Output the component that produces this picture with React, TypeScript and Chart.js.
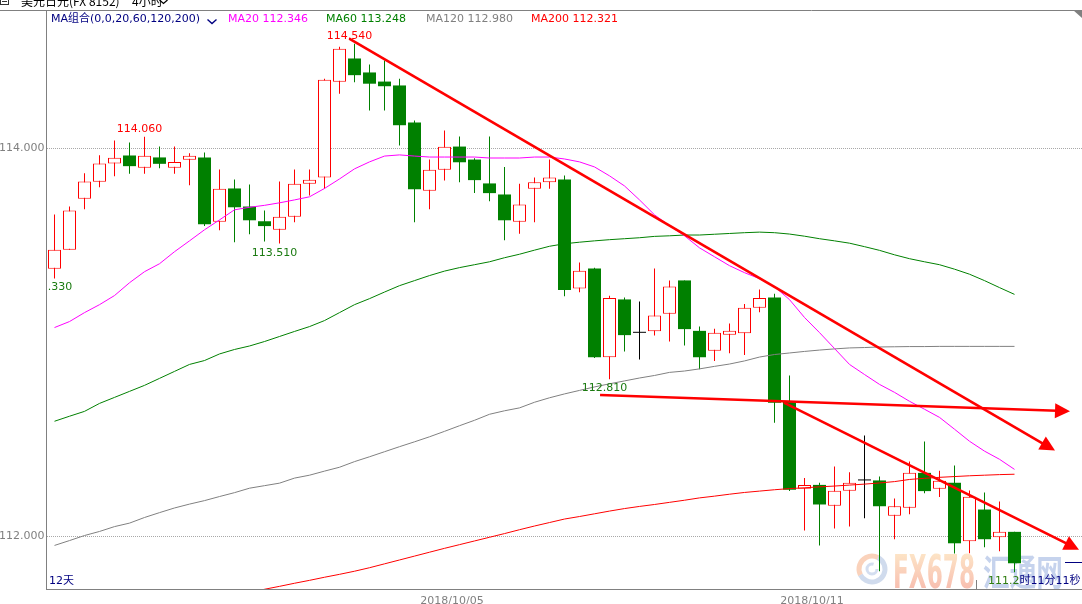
import { useEffect, useRef } from "react";
import { Chart, registerables } from "chart.js";

Chart.register(...registerables);

// ---------- data (USD/JPY 4h candles) ----------
const openP = [
  113.380, 113.478, 113.741, 113.828, 113.923, 113.964, 113.901, 113.954, 113.901, 113.942,
  113.954, 113.622, 113.794, 113.701, 113.625, 113.581, 113.648, 113.818, 113.851, 114.344,
  114.464, 114.392, 114.345, 114.325, 114.134, 113.782, 113.890, 114.010, 113.943, 113.820,
  113.763, 113.622, 113.792, 113.826, 113.840, 113.278, 113.381, 112.924, 113.222, 113.050,
  113.058, 113.148, 113.320, 113.060, 112.957, 113.040, 113.048, 113.179, 113.232, 112.697,
  112.246, 112.266, 112.158, 112.236, 112.289, 112.289, 112.107, 112.148, 112.328, 112.246,
  112.277, 111.976, 112.139, 111.996, 112.024,
];
const highP = [
  113.660, 113.701, 113.873, 113.965, 114.041, 114.031, 114.060, 114.010, 114.010, 113.976,
  113.979, 113.892, 113.840, 113.814, 113.680, 113.830, 113.892, 113.892, 114.359, 114.525,
  114.540, 114.433, 114.454, 114.359, 114.144, 113.943, 114.093, 114.062, 113.950, 114.062,
  113.904, 113.818, 113.851, 113.943, 113.861, 113.412, 113.385, 113.241, 113.232, 113.211,
  113.381, 113.320, 113.320, 113.082, 113.071, 113.098, 113.199, 113.273, 113.251, 112.830,
  112.301, 112.277, 112.361, 112.331, 112.521, 112.309, 112.196, 112.387, 112.490, 112.339,
  112.366, 112.237, 112.227, 112.180, 112.024,
];
const lowP = [
  113.330, 113.478, 113.687, 113.800, 113.857, 113.870, 113.870, 113.898, 113.870, 113.811,
  113.600, 113.579, 113.517, 113.558, 113.520, 113.510, 113.620, 113.758, 113.792, 114.282,
  114.342, 114.196, 114.196, 114.015, 113.620, 113.687, 113.835, 113.826, 113.770, 113.728,
  113.527, 113.560, 113.620, 113.792, 113.239, 113.259, 112.920, 112.810, 112.954, 112.912,
  113.036, 113.005, 112.985, 112.862, 112.904, 112.945, 112.935, 113.156, 112.586, 112.234,
  112.031, 111.954, 112.041, 112.052, 112.094, 111.821, 111.986, 112.115, 112.223, 112.203,
  111.912, 111.914, 111.945, 111.924, 111.816,
];
const closeP = [
  113.478, 113.680, 113.830, 113.923, 113.952, 113.909, 113.962, 113.921, 113.931, 113.962,
  113.610, 113.792, 113.697, 113.630, 113.600, 113.648, 113.818, 113.839, 114.354, 114.514,
  114.378, 114.334, 114.321, 114.120, 113.790, 113.890, 114.009, 113.929, 113.837, 113.770,
  113.630, 113.711, 113.826, 113.851, 113.270, 113.370, 112.924, 113.230, 113.038, 113.050,
  113.139, 113.289, 113.069, 112.924, 113.050, 113.060, 113.179, 113.230, 112.689, 112.241,
  112.266, 112.165, 112.236, 112.277, 112.289, 112.156, 112.156, 112.328, 112.234, 112.287,
  111.965, 112.205, 111.986, 112.024, 111.862,
];

const ma20 = [
  113.077, 113.108, 113.154, 113.195, 113.242, 113.308, 113.365, 113.406, 113.468, 113.524,
  113.581, 113.632, 113.684, 113.697, 113.707, 113.720, 113.735, 113.751, 113.794, 113.843,
  113.895, 113.931, 113.961, 113.967, 113.961, 113.956, 113.956, 113.956, 113.956, 113.951,
  113.951, 113.951, 113.956, 113.956, 113.946, 113.931, 113.905, 113.859, 113.807, 113.735,
  113.658, 113.602, 113.550, 113.488, 113.442, 113.396, 113.360, 113.329, 113.288, 113.221,
  113.129, 113.051, 112.969, 112.887, 112.835, 112.784, 112.743, 112.697, 112.656, 112.614,
  112.553, 112.491, 112.440, 112.398, 112.346,
];
const ma60 = [
  112.594, 112.620, 112.645, 112.686, 112.717, 112.748, 112.779, 112.815, 112.851, 112.887,
  112.907, 112.941, 112.964, 112.982, 113.005, 113.031, 113.057, 113.082, 113.113, 113.154,
  113.195, 113.226, 113.260, 113.293, 113.319, 113.345, 113.368, 113.386, 113.401, 113.416,
  113.437, 113.455, 113.476, 113.496, 113.509, 113.517, 113.524, 113.530, 113.535, 113.540,
  113.547, 113.550, 113.554, 113.554, 113.558, 113.562, 113.566, 113.569, 113.566, 113.559,
  113.548, 113.535, 113.524, 113.512, 113.494, 113.475, 113.452, 113.432, 113.416, 113.401,
  113.378, 113.352, 113.319, 113.283, 113.248,
];
const ma120 = [
  111.954, 111.979, 112.005, 112.026, 112.051, 112.069, 112.098, 112.123, 112.147, 112.167,
  112.185, 112.206, 112.226, 112.249, 112.262, 112.275, 112.301, 112.316, 112.337, 112.357,
  112.386, 112.411, 112.437, 112.463, 112.488, 112.514, 112.542, 112.571, 112.599, 112.630,
  112.648, 112.663, 112.692, 112.715, 112.735, 112.753, 112.771, 112.787, 112.802, 112.817,
  112.830, 112.846, 112.853, 112.864, 112.877, 112.889, 112.905, 112.925, 112.938, 112.946,
  112.954, 112.961, 112.967, 112.972, 112.974, 112.977, 112.978, 112.979, 112.979, 112.980,
  112.980, 112.980, 112.980, 112.980, 112.980,
];
const ma200 = [
  null, null, null, null, null, null, null, null, null, null, null, null, null,
  111.712, 111.728, 111.743, 111.759, 111.774, 111.790, 111.805,
  111.821, 111.839, 111.859, 111.879, 111.899, 111.919, 111.939, 111.958, 111.977, 111.996,
  112.015, 112.035, 112.054, 112.072, 112.090, 112.103, 112.117, 112.131, 112.144, 112.155,
  112.165, 112.176, 112.187, 112.199, 112.208, 112.218, 112.227, 112.234, 112.241, 112.247,
  112.251, 112.256, 112.260, 112.265, 112.270, 112.276, 112.283, 112.294, 112.300, 112.305,
  112.309, 112.313, 112.316, 112.319, 112.321,
];

const maNames = ["MA20", "MA60", "MA120", "MA200"];
const maLatest = [112.346, 113.248, 112.98, 112.321];
const maColors = ["#ff00ff", "#008000", "#808080", "#ff0000"];
const maLegendX = [228, 326, 426, 531];

const yGridValues = [114, 112];
const yTickLabels = ["114.000", "112.000"];
const xTickPositions = [26.5, 50.5];
const xTickLabels = ["2018/10/05", "2018/10/11"];
const separatorTicks = [61.5];

const highLabelIdx = [6, 20];
const lowLabelIdx = [0, 15, 37];

// trend lines (index, price)
const trendX1 = [19.65, 36.37, 48.63];
const trendY1 = [114.566, 112.729, 112.69];
const trendX2 = [66.7, 67.7, 68.3];
const trendY2 = [112.443, 112.646, 111.932];

// ---------- style ----------
const RED = "#ff0000";
const GREEN = "#008000";
const BLACK = "#000000";
const NAVY = "#000080";
const GREY = "#808080";
const FONT = '"DejaVu Sans", "Noto Sans CJK SC", sans-serif';
const CJK = '"Noto Sans CJK SC", "DejaVu Sans", sans-serif';

const idx = openP.map((_, i) => i);
const isUp = (i: number) => closeP[i] > openP[i];
const isDown = (i: number) => closeP[i] < openP[i];
const candleColor = (i: number) => (isUp(i) ? RED : isDown(i) ? GREEN : BLACK);

function drawArrowLine(ctx: CanvasRenderingContext2D, x1: number, y1: number, x2: number, y2: number) {
  const dx = x2 - x1;
  const dy = y2 - y1;
  const len = Math.hypot(dx, dy);
  const ux = dx / len;
  const uy = dy / len;
  const headLen = 15;
  const headHalf = 7.5;
  const bx = x2 - ux * headLen;
  const by = y2 - uy * headLen;
  ctx.beginPath();
  ctx.moveTo(x1, y1);
  ctx.lineTo(bx + ux * 2, by + uy * 2);
  ctx.stroke();
  ctx.beginPath();
  ctx.moveTo(x2, y2);
  ctx.lineTo(bx - uy * headHalf, by + ux * headHalf);
  ctx.lineTo(bx + uy * headHalf, by - ux * headHalf);
  ctx.closePath();
  ctx.fill();
}

const decor = {
  id: "decor",
  beforeDatasetsDraw(chart: any) {
    const { ctx, chartArea: a, scales } = chart;
    const ys = scales.y;
    ctx.save();
    // watermark
    ctx.lineWidth = 5;
    ctx.strokeStyle = "rgba(150,175,215,0.45)";
    ctx.beginPath();
    ctx.arc(872, 569, 13, -0.35 * Math.PI, 0.85 * Math.PI);
    ctx.stroke();
    ctx.strokeStyle = "rgba(245,165,120,0.5)";
    ctx.beginPath();
    ctx.arc(872, 569, 13, 0.85 * Math.PI, 1.65 * Math.PI);
    ctx.stroke();
    ctx.lineWidth = 3;
    ctx.strokeStyle = "rgba(170,190,225,0.5)";
    ctx.beginPath();
    ctx.arc(872, 569, 5, 0, 1.6 * Math.PI);
    ctx.stroke();
    const g = ctx.createLinearGradient(0, 553, 0, 588);
    g.addColorStop(0, "rgba(252,220,180,0.75)");
    g.addColorStop(1, "rgba(246,170,150,0.75)");
    ctx.fillStyle = g;
    ctx.font = 'bold 46px "Liberation Sans Narrow", "DejaVu Sans Condensed", "Liberation Sans", sans-serif';
    ctx.textAlign = "left";
    ctx.textBaseline = "alphabetic";
    ctx.fillText("FX678", 893, 588, 82);
    ctx.fillStyle = "rgba(160,182,225,0.6)";
    ctx.font = "bold 36px " + CJK;
    ctx.fillText("汇通网", 983, 586, 80);

    // dotted grid lines
    ctx.strokeStyle = "#a8a8a8";
    ctx.lineWidth = 1;
    ctx.setLineDash([1, 1]);
    yGridValues.forEach((v) => {
      const py = Math.round(ys.getPixelForValue(v) - 0.5) + 0.5;
      ctx.beginPath();
      ctx.moveTo(a.left, py);
      ctx.lineTo(a.right, py);
      ctx.stroke();
    });
    ctx.setLineDash([]);
    ctx.restore();
  },
  afterDatasetsDraw(chart: any) {
    const { ctx, chartArea: a, scales } = chart;
    const xs = scales.x;
    const ys = scales.y;
    ctx.save();
    ctx.beginPath();
    ctx.rect(a.left, a.top, a.right - a.left, a.bottom - a.top);
    ctx.clip();
    // trend lines
    ctx.strokeStyle = RED;
    ctx.fillStyle = RED;
    ctx.lineWidth = 2.6;
    trendX1.forEach((_, k) => {
      drawArrowLine(
        ctx,
        xs.getPixelForValue(trendX1[k]),
        ys.getPixelForValue(trendY1[k]),
        xs.getPixelForValue(trendX2[k]),
        ys.getPixelForValue(trendY2[k])
      );
    });
    // high / low labels
    ctx.font = "11px " + FONT;
    ctx.textAlign = "center";
    ctx.textBaseline = "alphabetic";
    ctx.fillStyle = RED;
    highLabelIdx.forEach((i) => {
      ctx.fillText(highP[i].toFixed(3), xs.getPixelForValue(i) - 5, ys.getPixelForValue(highP[i]) - 5);
    });
    ctx.fillStyle = "#1a7a10";
    lowLabelIdx.forEach((i) => {
      ctx.fillText(lowP[i].toFixed(3), xs.getPixelForValue(i) - 5, ys.getPixelForValue(lowP[i]) + 12);
    });
    // current price marker
    const last = closeP.length - 1;
    const py = Math.round(ys.getPixelForValue(closeP[last])) - 0.5;
    ctx.strokeStyle = NAVY;
    ctx.lineWidth = 1;
    ctx.beginPath();
    ctx.moveTo(1065, py);
    ctx.lineTo(a.right, py);
    ctx.stroke();
    ctx.restore();
  },
  afterDraw(chart: any) {
    const { ctx, chartArea: a, scales } = chart;
    const xs = scales.x;
    const ys = scales.y;
    ctx.save();
    // frame
    ctx.strokeStyle = GREY;
    ctx.lineWidth = 1;
    ctx.beginPath();
    ctx.moveTo(0, a.top + 0.5);
    ctx.lineTo(1082, a.top + 0.5);
    ctx.moveTo(a.left - 0.5, a.top);
    ctx.lineTo(a.left - 0.5, a.bottom + 1);
    ctx.moveTo(a.left - 1, a.bottom + 0.5);
    ctx.lineTo(a.right, a.bottom + 0.5);
    ctx.stroke();
    separatorTicks.forEach((t) => {
      const px = Math.round(xs.getPixelForValue(t)) - 0.5;
      ctx.beginPath();
      ctx.moveTo(px, a.bottom - 9);
      ctx.lineTo(px, a.bottom);
      ctx.stroke();
    });
    // top-right corner mark
    ctx.fillStyle = GREY;
    ctx.beginPath();
    ctx.moveTo(1073, a.top);
    ctx.lineTo(1082, a.top);
    ctx.lineTo(1082, a.top + 8);
    ctx.closePath();
    ctx.fill();

    // y labels
    ctx.font = "11px " + FONT;
    ctx.fillStyle = GREY;
    ctx.textAlign = "right";
    ctx.textBaseline = "middle";
    yGridValues.forEach((v, k) => {
      ctx.fillText(yTickLabels[k], 44.5, ys.getPixelForValue(v));
    });
    // x labels
    ctx.textAlign = "center";
    ctx.textBaseline = "alphabetic";
    xTickPositions.forEach((t, k) => {
      ctx.fillText(xTickLabels[k], xs.getPixelForValue(t), 603.5);
    });

    // header, top (partially hidden) title
    ctx.strokeStyle = "#333";
    ctx.strokeRect(0.5, -3.5, 8, 8);
    ctx.beginPath();
    ctx.moveTo(2, 1.5);
    ctx.lineTo(7, 1.5);
    ctx.stroke();
    ctx.fillStyle = "#000";
    ctx.textAlign = "left";
    ctx.font = "12px " + CJK;
    ctx.fillText("美元日元(FX 8152)", 21, 5.5);
    ctx.fillText("4小时", 132, 5.5);
    ctx.strokeStyle = "#000";
    ctx.lineWidth = 1.3;
    ctx.beginPath();
    ctx.moveTo(159.5, 0);
    ctx.lineTo(163.5, 3.5);
    ctx.lineTo(167.5, 0);
    ctx.stroke();

    // MA legend row
    ctx.textBaseline = "middle";
    ctx.font = "11px " + FONT;
    ctx.fillStyle = NAVY;
    ctx.fillText("MA组合(0,0,20,60,120,200)", 51, 19);
    ctx.strokeStyle = NAVY;
    ctx.lineWidth = 1.4;
    ctx.beginPath();
    ctx.moveTo(207.5, 19.5);
    ctx.lineTo(212, 23.5);
    ctx.lineTo(216.5, 19.5);
    ctx.stroke();
    maNames.forEach((n, k) => {
      ctx.fillStyle = maColors[k];
      ctx.fillText(n + " " + maLatest[k].toFixed(3), maLegendX[k], 19);
    });

    // bottom texts
    ctx.fillStyle = NAVY;
    ctx.fillText("12天", 49, 581);
    ctx.fillStyle = "#2f7d10";
    const priceTxt = "111.2";
    ctx.fillText(priceTxt, 988, 581);
    const w = ctx.measureText(priceTxt).width;
    ctx.fillStyle = NAVY;
    ctx.fillText("时11分11秒", 988 + w, 581);
    ctx.restore();
  },
};

export default function App() {
  const ref = useRef<HTMLCanvasElement>(null);
  useEffect(() => {
    const canvas = ref.current;
    if (!canvas) return;
    const chart = new Chart(canvas, {
      type: "bar",
      data: {
        datasets: [
          {
            type: "line",
            label: "MA20",
            data: ma20.map((v, i) => ({ x: i, y: v })),
            borderColor: maColors[0],
            borderWidth: 1,
            pointRadius: 0,
            tension: 0,
            fill: false,
            order: 0,
          } as any,
          {
            type: "line",
            label: "MA60",
            data: ma60.map((v, i) => ({ x: i, y: v })),
            borderColor: maColors[1],
            borderWidth: 1,
            pointRadius: 0,
            tension: 0,
            fill: false,
            order: 0,
          },
          {
            type: "line",
            label: "MA120",
            data: ma120.map((v, i) => ({ x: i, y: v })),
            borderColor: maColors[2],
            borderWidth: 1,
            pointRadius: 0,
            tension: 0,
            fill: false,
            order: 0,
          },
          {
            type: "line",
            label: "MA200",
            data: ma200.map((v, i) => ({ x: i, y: v })),
            borderColor: maColors[3],
            borderWidth: 1,
            pointRadius: 0,
            tension: 0,
            fill: false,
            order: 0,
          },
          {
            type: "bar",
            label: "body",
            data: idx.map((i) => ({ x: i, y: [openP[i], closeP[i]] })),
            backgroundColor: idx.map((i) => (isUp(i) ? "#ffffff" : candleColor(i))),
            borderColor: idx.map((i) => candleColor(i)),
            borderWidth: idx.map((i) => (isUp(i) ? 1 : 0)),
            borderSkipped: false,
            barThickness: 13,
            grouped: false,
            minBarLength: 1,
            inflateAmount: 0,
            order: 2,
          },
          {
            type: "bar",
            label: "wick",
            data: idx.map((i) => ({ x: i, y: [lowP[i], highP[i]] })),
            backgroundColor: idx.map((i) => candleColor(i)),
            borderWidth: 0,
            barThickness: 1,
            grouped: false,
            inflateAmount: 0,
            order: 3,
          },
        ] as any,
      },
      options: {
        responsive: false,
        animation: false,
        events: [],
        layout: { padding: { left: 47, top: 10, right: 0, bottom: 15 } },
        plugins: { legend: { display: false }, tooltip: { enabled: false } },
        scales: {
          x: { type: "linear", min: -0.5, max: 68.5, offset: false, display: false },
          y: { type: "linear", min: 111.72938, max: 114.71392, beginAtZero: false, display: false },
        },
      } as any,
      plugins: [decor],
    });
    return () => chart.destroy();
  }, []);
  return (
    <div style={{ position: "fixed", left: 0, top: 0, width: 1082, height: 604, background: "#fff", overflow: "hidden" }}>
      <canvas ref={ref} width={1082} height={604} style={{ display: "block", width: 1082, height: 604 }} />
    </div>
  );
}
